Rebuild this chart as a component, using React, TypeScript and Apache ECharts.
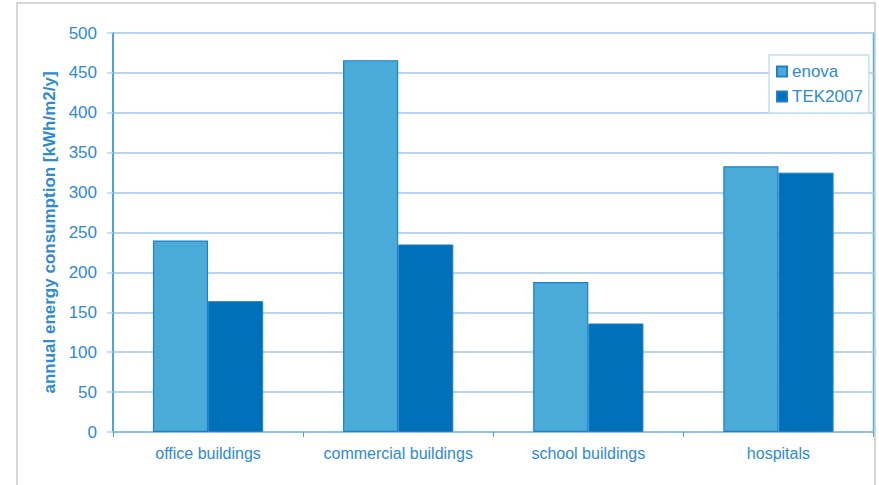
import React, { useEffect, useRef } from "react";
import * as echarts from "echarts";

const categories = ["office buildings", "commercial buildings", "school buildings", "hospitals"];
const enovaValues = [240, 466, 188, 333];
const tekValues = [164, 235, 136, 325];
const seriesNames = ["enova", "TEK2007"];
const yTitle = "annual energy consumption [kWh/m2/y]";

const FONT = "Liberation Sans, Arial, sans-serif";
const TEXT_BLUE = "#2f8bcf";
const AXIS_BLUE = "#4fa3dc";
const GRID_BLUE = "#b8d5ec";

export default function App() {
  const ref = useRef<HTMLDivElement>(null);
  useEffect(() => {
    document.body.style.margin = "0";
    const chart = echarts.init(ref.current!, null, { renderer: "svg" });
    chart.setOption({
      animation: false,
      backgroundColor: "#ffffff",
      graphic: [
        {
          type: "rect",
          shape: { x: 17, y: 3, width: 858, height: 500 },
          style: { fill: "none", stroke: "#c9c9c9", lineWidth: 1.5 },
          silent: true,
          z: -1,
        },
      ],
      grid: {
        left: 113,
        right: 5.5,
        top: 33,
        bottom: 53,
        show: true,
        borderColor: "#5aaee0",
        borderWidth: 1.5,
      },
      legend: {
        orient: "vertical",
        left: 769,
        top: 55,
        padding: [8, 6, 8, 7],
        itemWidth: 10,
        itemHeight: 10,
        itemGap: 8,
        icon: "rect",
        borderColor: "#c6def0",
        borderWidth: 1.5,
        backgroundColor: "#ffffff",
        textStyle: { fontFamily: FONT, fontSize: 17, color: TEXT_BLUE, padding: [0, 0, 0, 0] },
        data: seriesNames,
      },
      xAxis: {
        type: "category",
        data: categories,
        axisLine: { lineStyle: { color: "#7fbce6", width: 1.5 } },
        axisTick: { show: true, interval: 0, length: 5, lineStyle: { color: AXIS_BLUE } },
        axisLabel: {
          interval: 0,
          hideOverlap: false,
          fontFamily: FONT,
          fontSize: 16,
          color: TEXT_BLUE,
          margin: 13,
        },
      },
      yAxis: {
        type: "value",
        min: 0,
        max: 500,
        interval: 50,
        name: yTitle,
        nameLocation: "middle",
        nameGap: 54,
        nameTextStyle: { fontFamily: FONT, fontSize: 17, fontWeight: "bold", color: TEXT_BLUE },
        axisLine: { show: true, lineStyle: { color: AXIS_BLUE, width: 2 } },
        axisTick: { show: true, length: 6, lineStyle: { color: GRID_BLUE, width: 1.5 } },
        axisLabel: { fontFamily: FONT, fontSize: 17, color: TEXT_BLUE, margin: 16 },
        splitLine: { show: true, lineStyle: { color: GRID_BLUE, width: 2 } },
      },
      series: [
        {
          name: seriesNames[0],
          type: "bar",
          data: enovaValues,
          barGap: "0%",
          barCategoryGap: "42%",
          itemStyle: { color: "#4aaad8", borderColor: "#1f80c9", borderWidth: 1.2 },
        },
        {
          name: seriesNames[1],
          type: "bar",
          data: tekValues,
          barGap: "0%",
          barCategoryGap: "42%",
          itemStyle: { color: "#0070bb", borderColor: "#1f80c9", borderWidth: 1 },
        },
      ],
    });
    return () => chart.dispose();
  }, []);
  return (
    <div
      ref={ref}
      style={{ position: "absolute", left: 0, top: 0, width: 879, height: 485 }}
    />
  );
}
